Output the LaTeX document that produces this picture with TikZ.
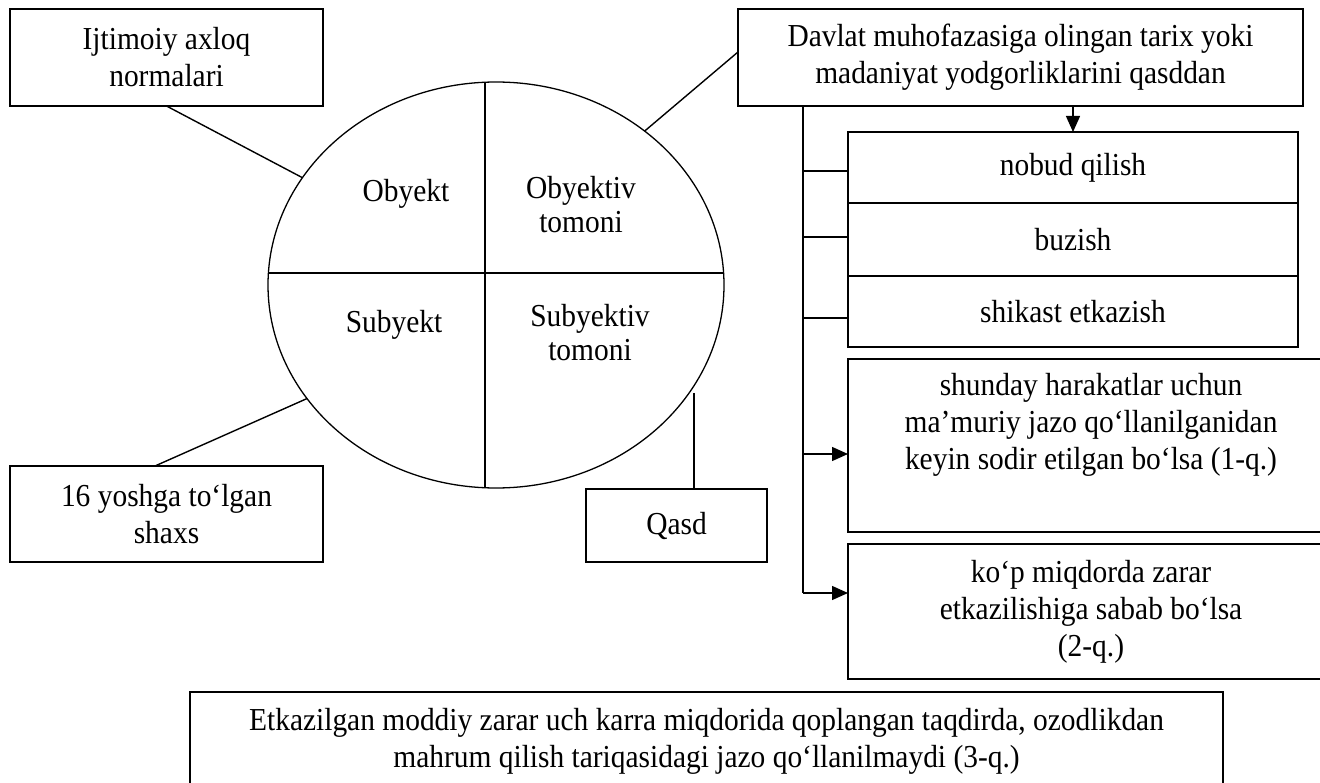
\documentclass[tikz,border=0pt]{standalone}
\usepackage{fontspec}
\setmainfont{Liberation Serif}[FakeStretch=0.92]
\usepackage{tikz}
\usetikzlibrary{arrows.meta, shapes.geometric}
\tikzset{
box/.style={
draw=black,
line width=1.5pt,
inner sep=0pt,
outer sep=0pt,
align=center,
font=\fontsize{32}{37}\selectfont
},
quarter/.style={
inner sep=0pt,
align=center,
font=\fontsize{32}{34}\selectfont
},
link/.style={
draw=black,
line width=1.4pt
},
arrow/.style={
-{Triangle[length=16pt,width=14pt]},
line width=1.4pt,
draw=black
}
}

\begin{document}
\begin{tikzpicture}[x=1pt, y=-1pt]
\useasboundingbox (0,0) rectangle (1320,783);
\clip (0,0) rectangle (1320,783);

% elements of the crime
\node[draw, line width=1.3pt, ellipse, minimum width=456pt, minimum height=406pt,
      inner sep=0pt, outer sep=0pt] (elem) at (496,285) {};
\draw[link] (268.4,273) -- (723.6,273);
\draw[link] (485,82.2) -- (485,487.8);
\node[quarter] (obyekt) at (406,194) {Obyekt};
\node[quarter] (obtomon) at (581,205) {Obyektiv\\tomoni};
\node[quarter] (subyekt) at (394,325) {Subyekt};
\node[quarter] (subtomon) at (590,333) {Subyektiv\\tomoni};

% boxes round the ellipse
\node[box, minimum width=313pt, minimum height=97pt] (ijtimoiy) at (166.5,57.5) {Ijtimoiy axloq\\normalari};
\node[box, minimum width=565pt, minimum height=97pt] (davlat) at (1020.5,57.5)
  {Davlat muhofazasiga olingan tarix yoki\\madaniyat yodgorliklarini qasddan};
\node[box, minimum width=313pt, minimum height=96pt] (yosh) at (166.5,514) {16 yoshga to‘lgan\\shaxs};
\node[box, minimum width=181pt, minimum height=73pt] (qasd) at (676.5,525.5) {Qasd};

\draw[link] (ijtimoiy.south) -- (elem.151);
\draw[link] ([yshift=5.5pt]davlat.west) -- (elem.46);
\draw[link] ([xshift=-11.5pt]yosh.north) -- (elem.211);
\coordinate (qtop) at (694,393);
\draw[link] (qtop) -- (qtop |- qasd.north);

% actions
\foreach \name/\y/\h/\txt in {nobud/167.5/71/nobud qilish, buzish/239.5/73/buzish,
                              shikast/311.5/71/shikast etkazish} {
  \node[box, minimum width=450pt, minimum height=\h pt] (\name) at (1073,\y) {\txt};
}
\node[box, minimum width=486pt, minimum height=173pt] (shunday) at (1091,445.5)
  {shunday harakatlar uchun\\ma’muriy jazo qo‘llanilganidan\\keyin sodir etilgan bo‘lsa (1-q.)\\\strut};
\node[box, minimum width=486pt, minimum height=135pt] (kop) at (1091,611.5)
  {ko‘p miqdorda zarar\\etkazilishiga sabab bo‘lsa\\(2-q.)};

\draw[arrow] (nobud.north |- davlat.south) -- (nobud.north);
\coordinate (spine) at (803,593);
\draw[link] (spine |- davlat.south) -- (spine);
\foreach \i/\y/\name in {1/171/nobud, 2/237/buzish, 3/318/shikast} {
  \coordinate (tick\i) at (803,\y);
  \draw[link] (tick\i) -- (tick\i -| \name.west);
}
\coordinate (upper) at (803,454);
\draw[arrow] (upper) -- (upper -| shunday.west);
\draw[arrow] (spine) -- (spine -| kop.west);

% note at the bottom
\node[box, line width=1.3pt, minimum width=1033pt, minimum height=99pt] (jazo) at (706.5,741.5)
  {Etkazilgan moddiy zarar uch karra miqdorida qoplangan taqdirda, ozodlikdan\\mahrum qilish tariqasidagi jazo qo‘llanilmaydi (3-q.)};

\end{tikzpicture}
\end{document}
